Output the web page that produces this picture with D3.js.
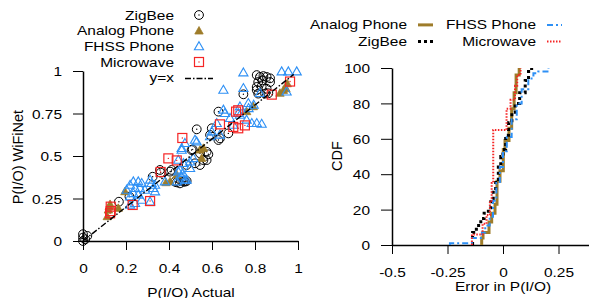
<!DOCTYPE html>
<html><head><meta charset="utf-8">
<script src="https://cdn.jsdelivr.net/npm/d3@7/dist/d3.min.js"></script>
<style>
html,body{margin:0;padding:0;background:#fff;}
svg{display:block;font-family:"Liberation Sans",Arial,Helvetica,sans-serif;}
</style></head>
<body><svg id="c" width="589" height="298"></svg>
<script>
// ---------- Scatter data (P(I/O) Actual, P(I/O) WiFiNet) ----------
const zigbeeX = [0.00,0.00,0.01,0.02,0.00,0.167,0.216,0.324,0.358,0.361,0.405,0.412,0.428,0.436,0.451,0.456,0.467,0.474,0.482,0.482,0.505,0.51,0.521,0.544,0.544,0.56,0.575,0.575,0.583,0.63,0.529,0.599,0.591,0.637,0.676,0.63,0.746,0.808,0.823,0.839,0.854,0.815,0.87,0.808,0.831,0.854,0.815,0.847,0.808,0.862,0.87,0.835];
const zigbeeY = [0.00,0.02,0.01,0.03,0.04,0.231,0.261,0.378,0.418,0.402,0.408,0.418,0.349,0.345,0.339,0.355,0.349,0.349,0.353,0.447,0.535,0.539,0.457,0.447,0.516,0.476,0.476,0.525,0.51,0.594,0.657,0.663,0.624,0.604,0.633,0.761,0.863,0.976,0.965,0.97,0.965,0.935,0.935,0.906,0.91,0.896,0.867,0.867,0.888,0.869,0.957,0.945];
const analogX = [0.113,0.118,0.122,0.126,0.164,0.195,0.386,0.405,0.436,0.544,0.552,0.56,0.761,0.792,0.916,0.932,0.944,0.95];
const analogY = [0.143,0.182,0.2,0.215,0.192,0.29,0.343,0.349,0.388,0.535,0.486,0.545,0.761,0.79,0.869,0.886,0.896,0.925];
const fhssX = [0.746,0.924,0.955,0.994,0.653,0.746,0.947,0.823,0.769,0.73,0.785,0.808,0.831,0.653,0.622,0.591,0.529,0.459,0.684,0.722,0.66,0.73,0.761,0.699,0.599,0.637,0.459,0.513,0.467,0.498,0.443,0.459,0.482,0.312,0.335,0.381,0.436,0.203,0.219,0.234,0.257,0.273,0.242,0.265,0.288,0.234,0.257,0.219,0.273,0.242,0.319,0.327,0.335,0.219,0.312,0.451,0.474,0.443,0.474,0.498,0.464,0.521,0.794,0.77];
const fhssY = [0.99,0.996,0.996,0.996,0.888,0.898,0.878,0.869,0.81,0.79,0.692,0.692,0.688,0.771,0.692,0.614,0.584,0.545,0.722,0.751,0.751,0.741,0.712,0.682,0.643,0.624,0.535,0.486,0.457,0.428,0.408,0.378,0.359,0.359,0.329,0.349,0.349,0.3,0.329,0.349,0.349,0.339,0.31,0.31,0.3,0.28,0.271,0.261,0.241,0.222,0.339,0.31,0.29,0.212,0.231,0.418,0.359,0.476,0.575,0.466,0.398,0.594,0.8,0.78];
const microX = [0.126,0.129,0.129,0.231,0.312,0.361,0.397,0.436,0.462,0.637,0.699,0.712,0.722,0.722,0.753,0.878,0.963];
const microY = [0.163,0.176,0.202,0.212,0.235,0.406,0.486,0.474,0.606,0.686,0.671,0.761,0.769,0.663,0.68,0.861,0.938];

const scatterLegend = ["ZigBee","Analog Phone","FHSS Phone","Microwave","y=x"];
const scatterXTicks = [0,0.2,0.4,0.6,0.8,1];
const scatterXTickLabels = ["0","0.2","0.4","0.6","0.8","1"];
const scatterYTicks = [0,0.25,0.5,0.75,1];
const scatterYTickLabels = ["0","0.25","0.5","0.75","1"];

// ---------- CDF data (error in P(I/O), CDF %) ----------
const analogErr = [-0.096,-0.096,-0.09,-0.063,-0.051,-0.036,-0.027,-0.0135,0.0014,0.009,0.027,0.039,0.05,0.059,0.073];
const analogCdf = [0,4,7,13,18,23,36,42,54,59,66,77,86,96,100];
const zigbeeErr = [-0.137,-0.137,-0.12,-0.1,-0.085,-0.066,-0.055,-0.044,-0.033,-0.021,-0.01,0.0,0.012,0.025,0.04,0.055,0.075,0.1,0.115,0.129];
const zigbeeCdf = [0,7,11,15,18,21,26,31,37,44,50,54,62,69,75,80,86,93,98,100];
const fhssErr = [-0.239,-0.239,-0.14,-0.095,-0.08,-0.06,-0.045,-0.03,-0.014,0.0,0.017,0.039,0.062,0.084,0.114,0.137,0.159,0.205];
const fhssCdf = [0,1,4,7,11,16,25,35,44,53,61,71,80,88,94,97,98,100];
const microErr = [-0.14,-0.14,-0.092,-0.074,-0.059,-0.051,-0.044,0.016,0.034,0.054,0.064,0.079];
const microCdf = [0,6,12,17,25,35,65,77,82,90,96,100];

const cdfLegend = ["Analog Phone","FHSS Phone","ZigBee","Microwave"];
const cdfXTicks = [-0.5,-0.25,0,0.25];
const cdfXTickLabels = ["-0.5","-0.25","0","0.25"];
const cdfYTicks = [0,20,40,60,80,100];

// ---------- styling ----------
const FS = 13.2, SX = 1.17, FSR = 14.5;
const cBlack = "#000", cOlive = "#9e7c2a", cBlue = "#2e90f5", cRed = "#f52525";

const svg = d3.select("#c");
svg.append("rect").attr("width",589).attr("height",298).attr("fill","#fff");

function stretch(sel){
  sel.each(function(){
    const t = d3.select(this);
    const x = +t.attr("x") || 0, y = +t.attr("y") || 0;
    t.attr("x",0).attr("y",0).attr("transform",`translate(${x},${y}) scale(${SX},1)`);
  });
}
function styleAxis(g){
  g.attr("font-family",null).attr("font-size",null);
  g.select(".domain").attr("stroke","#000").attr("stroke-width",1.5);
  g.selectAll(".tick line").attr("stroke","#000").attr("stroke-width",1);
  g.selectAll("text").attr("font-size",FS).attr("fill","#000");
}

// ================= LEFT: scatter =================
const x1 = d3.scaleLinear().domain([0,1]).range([83,298]);
const y1 = d3.scaleLinear().domain([0,1]).range([241,71]);

const gx1 = svg.append("g").attr("transform","translate(0,241)")
  .call(d3.axisBottom(x1).tickValues(scatterXTicks).tickFormat((d,i)=>scatterXTickLabels[i]).tickSize(9).tickSizeOuter(0));
styleAxis(gx1);
gx1.selectAll("text").attr("y",32).attr("dy",null);
stretch(gx1.selectAll("text"));

const gy1 = svg.append("g").attr("transform","translate(83,0)")
  .call(d3.axisLeft(y1).tickValues(scatterYTicks).tickFormat((d,i)=>scatterYTickLabels[i]).tickSize(10).tickSizeOuter(0));
styleAxis(gy1);
gy1.selectAll("text").attr("x",-21).attr("dy","0.35em");
stretch(gy1.selectAll("text"));

stretch(svg.append("text").attr("x",191).attr("y",296.5).attr("text-anchor","middle").attr("font-size",FS).text("P(I/O) Actual"));
svg.append("text").attr("transform","translate(23,157) rotate(-90)").attr("text-anchor","middle").attr("font-size",FSR).text("P(I/O) WiFiNet");

const triPath = (s,h)=>`M0,${-h*0.6}L${s},${h*0.4}L${-s},${h*0.4}Z`;

function drawCircle(g,cx,cy){
  g.append("circle").attr("cx",cx).attr("cy",cy).attr("r",4.4).attr("fill","none").attr("stroke",cBlack).attr("stroke-width",1);
  g.append("circle").attr("cx",cx).attr("cy",cy).attr("r",0.7).attr("fill",cBlack);
}
function drawAnalog(g,cx,cy){
  g.append("path").attr("transform",`translate(${cx},${cy})`).attr("d",triPath(4.2,7.5)).attr("fill",cOlive).attr("stroke",cOlive).attr("stroke-width",0.8);
}
function drawFhss(g,cx,cy){
  g.append("path").attr("transform",`translate(${cx},${cy})`).attr("d",triPath(4.6,8)).attr("fill","none").attr("stroke",cBlue).attr("stroke-width",1.1);
}
function drawMicro(g,cx,cy){
  g.append("rect").attr("x",cx-4.5).attr("y",cy-4.5).attr("width",9).attr("height",9).attr("fill","none").attr("stroke",cRed).attr("stroke-width",1.2);
  g.append("circle").attr("cx",cx).attr("cy",cy).attr("r",0.7).attr("fill",cRed);
}

const pts = svg.append("g");
zigbeeX.forEach((v,i)=>drawCircle(pts,x1(v),y1(zigbeeY[i])));
analogX.forEach((v,i)=>drawAnalog(pts,x1(v),y1(analogY[i])));
fhssX.forEach((v,i)=>drawFhss(pts,x1(v),y1(fhssY[i])));
microX.forEach((v,i)=>drawMicro(pts,x1(v),y1(microY[i])));

svg.append("line").attr("x1",x1(0)).attr("y1",y1(0)).attr("x2",x1(0.98)).attr("y2",y1(0.98))
  .attr("stroke","#000").attr("stroke-width",1.4).attr("stroke-dasharray","6,2,1.5,2");

// left legend
const legBase = [19.5,35.2,50.9,66.6,82.3];
const lg = svg.append("g");
scatterLegend.forEach((t,i)=>{
  stretch(lg.append("text").attr("x",174).attr("y",legBase[i]).attr("text-anchor","end").attr("font-size",FS).text(t));
});
drawCircle(lg,199,15);
drawAnalog(lg,199,31);
drawFhss(lg,199,46.5);
drawMicro(lg,199,62);
lg.append("line").attr("x1",185).attr("x2",213).attr("y1",78.5).attr("y2",78.5)
  .attr("stroke","#000").attr("stroke-width",1.4).attr("stroke-dasharray","6,2,1.5,2");

// ================= RIGHT: CDF =================
const x2 = d3.scaleLinear().domain([-0.5,0.5]).range([392,614]);
const y2 = d3.scaleLinear().domain([0,100]).range([245,68]);

const gx2 = svg.append("g").attr("transform","translate(0,245)")
  .call(d3.axisBottom(x2).tickValues(cdfXTicks).tickFormat((d,i)=>cdfXTickLabels[i]).tickSize(9).tickSizeOuter(0));
styleAxis(gx2);
gx2.selectAll("text").attr("y",32.3).attr("dy",null);
stretch(gx2.selectAll("text"));

const gy2 = svg.append("g").attr("transform","translate(392,0)")
  .call(d3.axisLeft(y2).tickValues(cdfYTicks).tickSize(11).tickSizeOuter(0));
styleAxis(gy2);
gy2.selectAll("text").attr("x",-22).attr("dy","0.35em");
stretch(gy2.selectAll("text"));

stretch(svg.append("text").attr("x",503).attr("y",290.5).attr("text-anchor","middle").attr("font-size",FS).text("Error in P(I/O)"));
svg.append("text").attr("transform","translate(342,156) rotate(-90)").attr("text-anchor","middle").attr("font-size",FSR).text("CDF");

const stepLine = d3.line().x(d=>x2(d[0])).y(d=>y2(d[1])).curve(d3.curveStepAfter);
const zip = (a,b)=>a.map((v,i)=>[v,b[i]]);

const cdfSeries = [
  {err:analogErr, cdf:analogCdf, color:cOlive, w:3, dash:null},
  {err:zigbeeErr, cdf:zigbeeCdf, color:cBlack, w:3, dash:"3,3"},
  {err:fhssErr, cdf:fhssCdf, color:cBlue, w:2, dash:"6,3,2,3"},
  {err:microErr, cdf:microCdf, color:cRed, w:2, dash:"1.5,1.5"}
];
cdfSeries.forEach(s=>{
  svg.append("path").attr("d",stepLine(zip(s.err,s.cdf))).attr("fill","none")
    .attr("stroke",s.color).attr("stroke-width",s.w).attr("stroke-dasharray",s.dash);
});

// right legend
const rl = svg.append("g");
const rlItems = [
  {t:cdfLegend[0], x:407, y:29.4, s:cdfSeries[0]},
  {t:cdfLegend[1], x:536, y:29.4, s:cdfSeries[2]},
  {t:cdfLegend[2], x:407, y:46, s:cdfSeries[1]},
  {t:cdfLegend[3], x:536, y:46, s:cdfSeries[3]}
];
rlItems.forEach(it=>{
  stretch(rl.append("text").attr("x",it.x).attr("y",it.y).attr("text-anchor","end").attr("font-size",FS).text(it.t));
  rl.append("line").attr("x1",it.x+11).attr("x2",it.x+26).attr("y1",it.y-4.5).attr("y2",it.y-4.5)
    .attr("stroke",it.s.color).attr("stroke-width",it.s.w).attr("stroke-dasharray",it.s.dash);
});
</script>
</body></html>
